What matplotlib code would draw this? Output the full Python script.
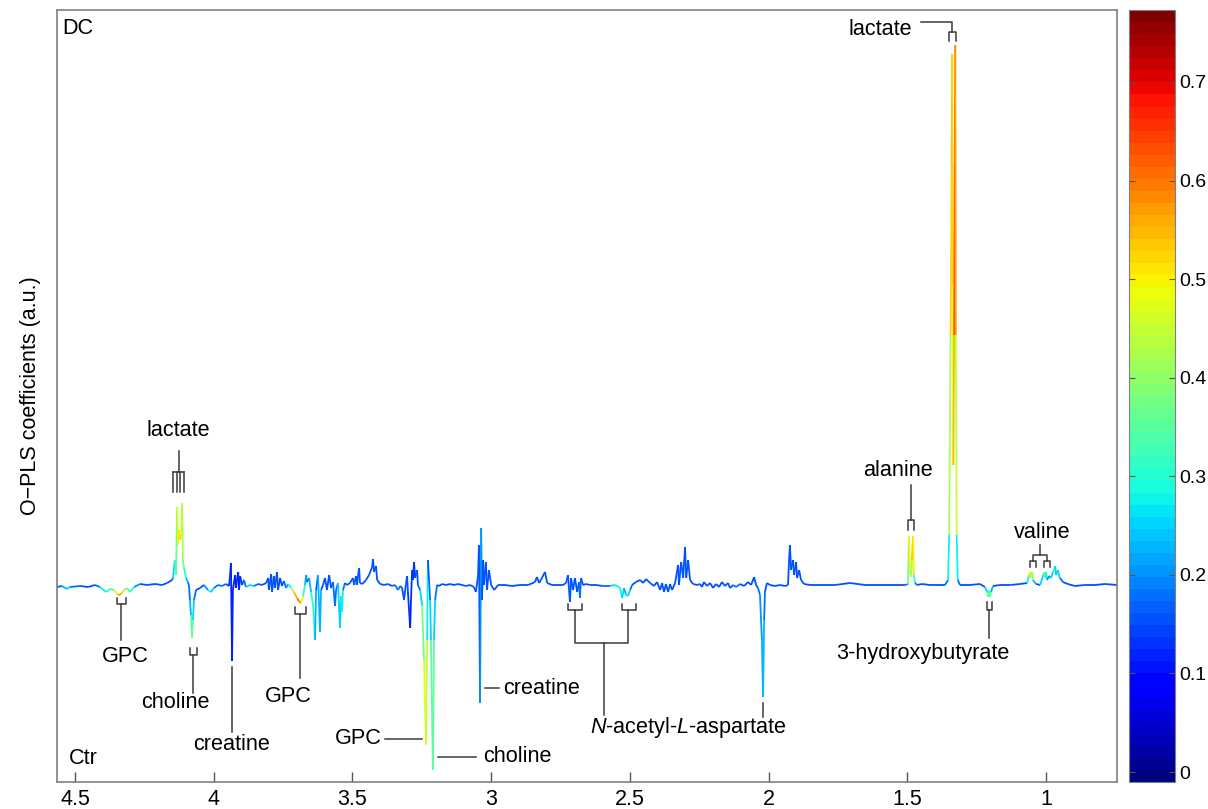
import numpy as np
import matplotlib
matplotlib.use('Agg')
import matplotlib.pyplot as plt
from matplotlib.collections import LineCollection
from matplotlib.colors import ListedColormap, Normalize
from matplotlib.colorbar import ColorbarBase

plt.rcParams['font.family'] = ['Liberation Sans', 'DejaVu Sans']
plt.rcParams['mathtext.fontset'] = 'custom'
plt.rcParams['mathtext.rm'] = 'Liberation Sans'
plt.rcParams['mathtext.it'] = 'Liberation Sans:italic'

# spectrum trace: (chemical shift ppm, O-PLS coefficient a.u., |r| correlation)
spectrum = [
    (4.565, -0.02, .15), (4.547, -0.01, .15), (4.529, -0.04, .3), (4.518, -0.02, .2),
    (4.482, -0.01, .15), (4.453, -0.02, .15), (4.428, 0.00, .15), (4.410, -0.02, .2),
    (4.388, -0.07, .35), (4.374, -0.04, .25), (4.359, -0.05, .4), (4.345, -0.10, .55),
    (4.334, -0.09, .6), (4.323, -0.05, .45), (4.312, -0.03, .35), (4.302, -0.07, .35),
    (4.287, -0.02, .25), (4.266, 0.01, .15), (4.240, 0.00, .15), (4.212, 0.01, .15),
    (4.186, 0.00, .15), (4.168, 0.02, .15), (4.150, 0.05, .15),
    # lactate CH
    (4.147, 0.07, .2), (4.140, 0.25, .3), (4.136, 0.10, .3), (4.132, 0.78, .42),
    (4.129, 0.40, .5), (4.125, 0.55, .48), (4.122, 0.45, .55), (4.118, 0.50, .5),
    (4.114, 0.82, .45), (4.111, 0.25, .4), (4.107, 0.17, .35), (4.100, 0.07, .25),
    (4.093, 0.03, .2),
    # choline
    (4.089, -0.01, .15), (4.086, -0.15, .2), (4.082, -0.30, .25), (4.078, -0.53, .42),
    (4.075, -0.35, .3), (4.071, -0.15, .2), (4.064, -0.05, .15), (4.049, -0.03, .15),
    (4.035, 0.00, .15), (4.021, -0.05, .25), (4.010, -0.07, .3), (3.999, -0.03, .2),
    (3.985, 0.00, .15), (3.970, -0.01, .2), (3.956, 0.01, .15), (3.945, -0.01, .15),
    # creatine CH2
    (3.941, 0.10, .12), (3.938, 0.22, .12), (3.934, -0.76, .12), (3.931, -0.05, .12),
    (3.923, 0.10, .12), (3.920, -0.03, .12), (3.912, 0.13, .12), (3.909, -0.05, .12),
    (3.905, 0.09, .12), (3.898, 0.00, .15), (3.891, 0.05, .15), (3.884, -0.02, .2),
    (3.869, 0.00, .3), (3.855, -0.01, .2), (3.840, 0.01, .15), (3.826, 0.00, .15),
    (3.811, 0.02, .15),
    (3.804, 0.07, .15), (3.801, -0.05, .15), (3.793, 0.11, .15), (3.790, -0.07, .15),
    (3.783, 0.09, .15), (3.779, -0.03, .15), (3.772, 0.13, .15), (3.768, -0.05, .15),
    (3.761, 0.07, .15), (3.754, -0.01, .15), (3.747, 0.04, .15), (3.739, -0.03, .2),
    (3.732, 0.01, .2),
    # GPC
    (3.721, -0.03, .35), (3.711, -0.07, .5), (3.700, -0.13, .6), (3.693, -0.16, .62),
    (3.685, -0.18, .6), (3.678, -0.11, .4), (3.671, 0.00, .2), (3.667, 0.10, .25),
    (3.664, 0.03, .15), (3.656, 0.07, .15), (3.649, -0.07, .3), (3.642, -0.20, .3),
    (3.635, -0.55, .3), (3.631, -0.05, .15), (3.624, 0.10, .15), (3.617, -0.47, .3),
    (3.613, -0.05, .15), (3.606, 0.00, .15), (3.599, 0.07, .15), (3.592, -0.05, .15),
    (3.584, 0.10, .15), (3.577, -0.03, .15), (3.570, 0.03, .15), (3.563, -0.21, .2),
    (3.559, -0.05, .15), (3.552, 0.02, .2), (3.545, -0.43, .3), (3.541, -0.11, .2),
    (3.538, -0.27, .35), (3.534, -0.05, .2), (3.527, 0.02, .15), (3.520, 0.00, .15),
    (3.509, 0.02, .15), (3.498, 0.07, .15), (3.494, 0.00, .15), (3.487, 0.09, .15),
    (3.484, 0.00, .15), (3.476, 0.17, .15), (3.473, 0.02, .15), (3.465, 0.01, .15),
    (3.451, 0.05, .15), (3.440, 0.10, .15), (3.429, 0.18, .15), (3.426, 0.26, .15),
    (3.422, 0.13, .15), (3.415, 0.19, .15), (3.411, 0.05, .15), (3.400, 0.01, .15),
    (3.386, 0.00, .15), (3.372, 0.01, .15), (3.357, -0.01, .15), (3.346, 0.00, .15),
    (3.336, -0.05, .2), (3.328, -0.01, .15),
    (3.321, -0.03, .15), (3.314, -0.15, .15), (3.310, -0.05, .15), (3.303, 0.09, .15),
    (3.300, -0.07, .15), (3.292, -0.43, .12), (3.289, -0.15, .12), (3.285, 0.15, .15),
    (3.282, 0.05, .15), (3.278, 0.23, .12), (3.274, 0.07, .15), (3.267, 0.15, .15),
    (3.264, 0.00, .15), (3.256, -0.05, .2), (3.249, -0.20, .3), (3.242, -0.75, .45),
    (3.235, -1.60, .5), (3.231, -0.55, .4), (3.228, 0.25, .15), (3.224, 0.05, .15),
    (3.220, -0.15, .2), (3.217, -0.55, .3), (3.210, -1.85, .4), (3.206, -0.55, .3),
    (3.202, -0.15, .2), (3.195, 0.00, .15), (3.188, -0.01, .15), (3.177, 0.01, .15),
    (3.163, 0.00, .15), (3.148, 0.01, .15), (3.134, 0.00, .15), (3.120, 0.01, .15),
    (3.105, 0.00, .15), (3.091, -0.01, .15), (3.076, 0.00, .15), (3.062, -0.02, .15),
    (3.055, -0.07, .15),
    # creatine CH3
    (3.047, 0.10, .15), (3.044, 0.40, .15), (3.040, -1.18, .15), (3.036, 0.57, .25),
    (3.033, -0.15, .15), (3.029, 0.25, .15), (3.026, 0.00, .15), (3.019, 0.23, .15),
    (3.015, -0.05, .15), (3.008, 0.15, .15), (3.000, 0.00, .15), (2.989, -0.05, .15),
    (2.975, 0.00, .15), (2.950, 0.00, .15), (2.925, -0.01, .15), (2.896, 0.00, .15),
    (2.867, 0.00, .15), (2.842, 0.03, .15), (2.835, 0.08, .15), (2.827, 0.02, .15),
    (2.817, 0.07, .15), (2.806, 0.13, .15), (2.798, 0.02, .15), (2.780, 0.00, .15),
    (2.759, 0.00, .15), (2.741, 0.00, .15),
    # N-acetyl-L-aspartate CH2
    (2.730, 0.02, .15), (2.723, 0.10, .15), (2.716, -0.17, .15), (2.712, 0.07, .15),
    (2.705, -0.05, .15), (2.698, 0.07, .15), (2.690, -0.07, .15), (2.683, 0.03, .15),
    (2.680, -0.13, .2), (2.676, 0.07, .15), (2.669, 0.00, .15), (2.658, 0.01, .15),
    (2.644, 0.00, .15), (2.622, 0.00, .15), (2.597, -0.01, .15), (2.572, -0.01, .2),
    (2.553, 0.00, .3), (2.535, -0.03, .25), (2.528, -0.13, .3), (2.521, -0.03, .2),
    (2.514, -0.10, .25), (2.507, -0.11, .3), (2.499, -0.05, .2), (2.492, 0.00, .15),
    (2.478, 0.03, .15), (2.463, 0.05, .15), (2.452, 0.02, .15), (2.442, 0.06, .15),
    (2.427, 0.02, .15), (2.413, -0.01, .15), (2.402, 0.03, .15), (2.391, -0.05, .15),
    (2.384, 0.02, .15), (2.377, -0.07, .15), (2.370, 0.01, .15), (2.362, -0.07, .15),
    (2.355, 0.01, .15), (2.348, -0.05, .15), (2.337, 0.02, .15), (2.326, 0.20, .15),
    (2.323, 0.00, .15), (2.315, 0.23, .15), (2.308, 0.07, .15), (2.301, 0.38, .15),
    (2.297, 0.07, .15), (2.290, 0.25, .15), (2.283, 0.05, .15), (2.272, 0.01, .15),
    (2.258, 0.00, .15), (2.247, 0.01, .15), (2.240, -0.02, .15), (2.233, 0.03, .15),
    (2.222, -0.01, .15), (2.211, 0.02, .15), (2.200, -0.03, .15), (2.189, 0.01, .15),
    (2.178, -0.02, .15), (2.168, 0.03, .15), (2.157, -0.01, .15), (2.146, 0.02, .15),
    (2.139, -0.03, .15), (2.128, 0.00, .15), (2.117, -0.02, .2), (2.103, 0.01, .15),
    (2.088, -0.01, .15), (2.074, 0.03, .15), (2.063, 0.00, .15), (2.052, 0.08, .15),
    (2.045, 0.00, .15), (2.038, -0.03, .15), (2.031, -0.10, .2), (2.024, -0.55, .2),
    (2.020, -1.12, .25), (2.016, -0.35, .2), (2.013, -0.07, .15), (2.006, 0.02, .15),
    (1.995, 0.00, .15), (1.977, -0.01, .15), (1.959, 0.00, .15), (1.941, -0.01, .15),
    (1.930, 0.00, .15),
    (1.926, 0.25, .15), (1.923, 0.40, .15), (1.919, 0.15, .15), (1.912, 0.25, .15),
    (1.908, 0.10, .15), (1.901, 0.23, .15), (1.897, 0.07, .15), (1.890, 0.15, .15),
    (1.883, 0.05, .15), (1.872, 0.01, .15), (1.850, 0.00, .15), (1.814, 0.00, .15),
    (1.760, 0.00, .15), (1.706, 0.02, .15), (1.652, 0.00, .15), (1.598, 0.00, .15),
    (1.544, 0.00, .15), (1.508, 0.00, .15),
    # alanine
    (1.497, 0.01, .2), (1.494, 0.49, .55), (1.490, 0.15, .45), (1.486, 0.08, .35),
    (1.483, 0.25, .5), (1.479, 0.49, .6), (1.476, 0.10, .4), (1.472, 0.02, .2),
    (1.465, 0.00, .15), (1.447, 0.01, .15), (1.418, 0.00, .15), (1.382, 0.00, .15),
    (1.364, 0.00, .15), (1.353, 0.05, .2),
    # lactate CH3
    (1.349, 0.50, .35), (1.344, 2.50, .5), (1.340, 4.20, .55), (1.338, 5.31, .55),
    (1.336, 3.00, .5), (1.334, 1.20, .45), (1.331, 2.50, .65), (1.329, 4.20, .62),
    (1.327, 5.40, .6), (1.325, 2.50, .55), (1.322, 0.50, .35), (1.318, 0.05, .2),
    (1.310, 0.00, .15), (1.274, 0.00, .15), (1.238, 0.01, .15), (1.220, -0.02, .15),
    # 3-hydroxybutyrate
    (1.212, -0.07, .35), (1.209, -0.12, .4), (1.205, -0.05, .3), (1.202, -0.12, .4),
    (1.198, -0.07, .3), (1.191, -0.01, .15), (1.166, 0.00, .15), (1.129, 0.00, .15),
    (1.093, 0.01, .15), (1.068, 0.02, .15),
    # valine
    (1.061, 0.10, .4), (1.058, 0.13, .55), (1.054, 0.07, .45), (1.050, 0.13, .5),
    (1.047, 0.05, .3), (1.036, 0.01, .15), (1.021, 0.00, .15), (1.010, 0.10, .35),
    (1.007, 0.13, .4), (1.003, 0.07, .3), (1.000, 0.13, .35), (0.996, 0.05, .2),
    (0.989, 0.09, .2), (0.982, 0.07, .2), (0.975, 0.13, .3), (0.967, 0.19, .3),
    (0.964, 0.10, .2), (0.957, 0.15, .3), (0.950, 0.07, .2), (0.939, 0.03, .15),
    (0.921, 0.01, .15), (0.896, -0.01, .15), (0.860, 0.00, .15), (0.824, 0.00, .15),
    (0.787, 0.01, .15), (0.744, 0.00, .15),
]

xtick_values = [4.5, 4, 3.5, 3, 2.5, 2, 1.5, 1]
xtick_labels = ['4.5', '4', '3.5', '3', '2.5', '2', '1.5', '1']
cbar_ticks = [0, 0.1, 0.2, 0.3, 0.4, 0.5, 0.6, 0.7]
cbar_labels = ['0', '0.1', '0.2', '0.3', '0.4', '0.5', '0.6', '0.7']
corr_range = (-0.0101, 0.773)
ppm_range = (4.565, 0.744)
coef_range = (-1.97, 5.75)

ppm = np.array([p[0] for p in spectrum])
coef = np.array([p[1] for p in spectrum])
corr = np.array([p[2] for p in spectrum])

fig = plt.figure(figsize=(12.08, 8.09), dpi=100)
ax = fig.add_axes([57 / 1208, 27 / 809, 1060 / 1208, 772 / 809])
cax = fig.add_axes([1129 / 1208, 27 / 809, 46 / 1208, 772 / 809])

jet64 = ListedColormap(plt.get_cmap('jet')(np.linspace(0, 1, 64)))
norm = Normalize(*corr_range)

# colour each segment of the trace by its correlation
pts = np.column_stack([ppm, coef])
segs = np.stack([pts[:-1], pts[1:]], axis=1)
lc = LineCollection(segs, cmap=jet64, norm=norm, linewidths=1.3)
lc.set_array((corr[:-1] + corr[1:]) / 2)
ax.add_collection(lc)

ax.set_xlim(*ppm_range)
ax.set_ylim(*coef_range)
ax.set_xticks(xtick_values)
ax.set_xticklabels(xtick_labels)
ax.set_yticks([])
ax.tick_params(axis='x', direction='in', length=7, width=1, color='#555555',
               labelsize=15.5, pad=5)
for s in ax.spines.values():
    s.set_color('#808080')
    s.set_linewidth(1.2)
ax.set_ylabel('O\u2212PLS coefficients (a.u.)', fontsize=15.5)
ax.yaxis.set_label_coords(-0.015, 0.5)

# annotations
lk = dict(color='#3a3a3a', lw=1.1)
fs = 15.6


def seg(xs, ys):
    ax.plot(xs, ys, **lk)


def label(x, y, s, ha='center'):
    ax.text(x, y, s, fontsize=fs, ha=ha, va='center')


# lactate (4.11)
seg([4.125, 4.125], [1.34, 1.13])
seg([4.147, 4.107], [1.13, 1.13])
for xp in [4.147, 4.134, 4.120, 4.107]:
    seg([xp, xp], [1.13, 0.93])
label(4.129, 1.55, 'lactate')

# GPC (4.33)
seg([4.349, 4.349, 4.317, 4.317], [-0.13, -0.19, -0.19, -0.13])
seg([4.334, 4.334], [-0.19, -0.55])
label(4.320, -0.72, 'GPC')

# choline (4.07)
seg([4.086, 4.086, 4.060, 4.060], [-0.63, -0.70, -0.70, -0.63])
seg([4.075, 4.075], [-0.70, -1.08])
label(4.140, -1.18, 'choline')

# creatine (3.93)
seg([3.934, 3.934], [-0.82, -1.47])
label(3.934, -1.60, 'creatine')

# GPC (3.69)
seg([3.707, 3.707, 3.667, 3.667], [-0.22, -0.29, -0.29, -0.22])
seg([3.689, 3.689], [-0.29, -0.93])
label(3.732, -1.11, 'GPC')

# GPC (3.23) and choline (3.21)
seg([3.383, 3.249], [-1.54, -1.54])
label(3.480, -1.54, 'GPC')
seg([3.192, 3.055], [-1.72, -1.72])
label(3.029, -1.72, 'choline', ha='left')

# creatine (3.03)
seg([3.022, 2.972], [-1.03, -1.03])
label(2.957, -1.03, 'creatine', ha='left')

# N-acetyl-L-aspartate
seg([2.723, 2.723, 2.673, 2.673], [-0.19, -0.25, -0.25, -0.19])
seg([2.528, 2.528, 2.478, 2.478], [-0.19, -0.25, -0.25, -0.19])
seg([2.698, 2.698, 2.507, 2.507], [-0.25, -0.58, -0.58, -0.25])
seg([2.593, 2.593], [-0.58, -1.30])
seg([2.020, 2.020], [-1.18, -1.32])
label(2.289, -1.43, r'$\mathit{N}$-acetyl-$\mathit{L}$-aspartate')

# alanine
seg([1.486, 1.486], [1.00, 0.65])
seg([1.498, 1.498, 1.475, 1.475], [0.55, 0.65, 0.65, 0.55])
label(1.533, 1.15, 'alanine')

# lactate (1.33)
seg([1.450, 1.337, 1.337], [5.63, 5.63, 5.53])
seg([1.349, 1.349, 1.326, 1.326], [5.44, 5.53, 5.53, 5.44])
label(1.598, 5.55, 'lactate')

# valine
seg([1.021, 1.021], [0.40, 0.30])
seg([1.047, 1.047, 0.996, 0.996], [0.24, 0.30, 0.30, 0.24])
seg([1.058, 1.058, 1.036, 1.036], [0.18, 0.24, 0.24, 0.18])
seg([1.007, 1.007, 0.985, 0.985], [0.18, 0.24, 0.24, 0.18])
label(1.014, 0.53, 'valine')

# 3-hydroxybutyrate
seg([1.212, 1.212, 1.195, 1.195], [-0.17, -0.25, -0.25, -0.17])
seg([1.204, 1.204], [-0.25, -0.53])
label(1.443, -0.68, '3-hydroxybutyrate')

label(4.547, 5.56, 'DC', ha='left')
label(4.522, -1.74, 'Ctr', ha='left')

# colour bar
cb = ColorbarBase(cax, cmap=jet64, norm=norm, ticks=cbar_ticks)
cb.set_ticklabels(cbar_labels)
cb.outline.set_edgecolor('#808080')
cax.tick_params(axis='y', direction='in', left=True, right=True, length=4,
                width=0.8, color='#555555', labelsize=14, pad=3)

fig.savefig('out.png', dpi=100)
